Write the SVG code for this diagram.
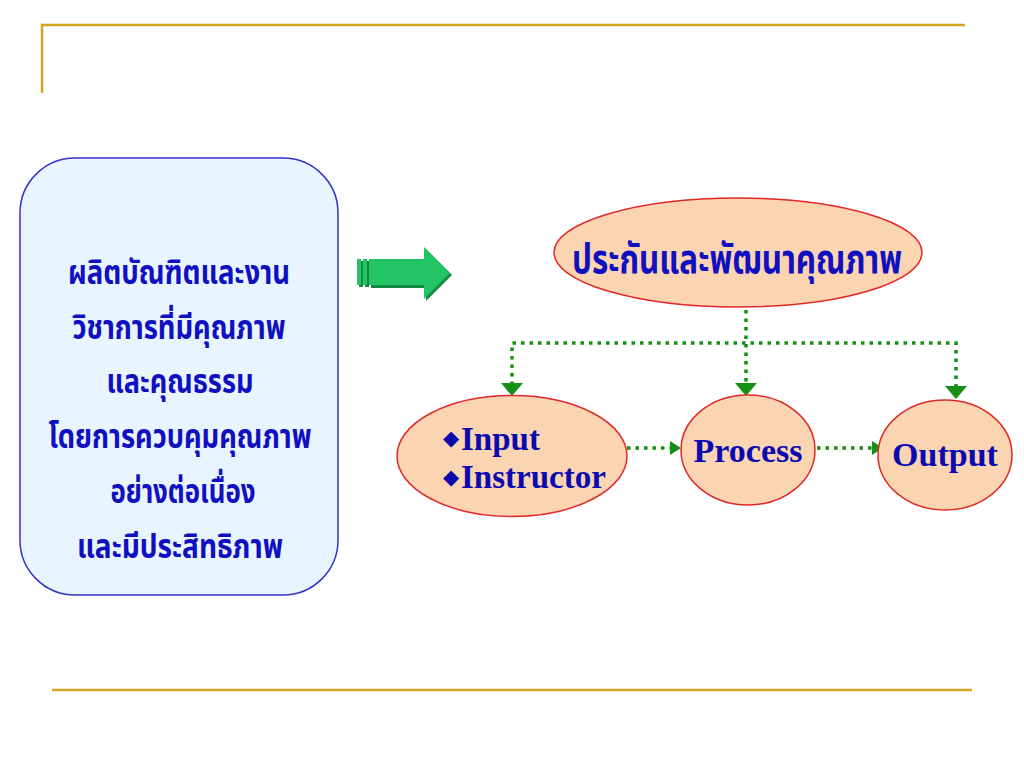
<svg xmlns="http://www.w3.org/2000/svg" width="1024" height="768" viewBox="0 0 1024 768">
<defs>
<style>
.deco{stroke:#D4A520;stroke-width:2.5;fill:none}
.th{font-family:"Noto Sans Thai","Noto Sans Thai Looped","Noto Sans","DejaVu Sans",sans-serif;font-weight:bold;fill:#1010C0;text-anchor:middle}
.en{font-family:"Liberation Serif","Times New Roman",serif;font-weight:bold;fill:#0A0AB0}
.bul{font-family:"DejaVu Sans",sans-serif;fill:#0A0AB0;text-anchor:middle}
.node{fill:#FBD5B2;stroke:#E02828;stroke-width:1.5}
.dot{stroke:#159015;stroke-width:3.5;fill:none;stroke-dasharray:3.5 5}
.head{fill:#159015}
</style>
</defs>
<rect width="1024" height="768" fill="#ffffff"/>
<g id="decoration">
<polyline class="deco" points="42,93 42,25 965,25"/>
<line class="deco" x1="52" y1="690" x2="972" y2="690"/>
</g>
<g id="goal-box">
<rect x="20" y="158" width="318" height="437" rx="55" ry="55" fill="#E8F5FF" stroke="#3333CC" stroke-width="1.5"/>
<text class="th" font-size="33" x="179" y="284" textLength="222" lengthAdjust="spacingAndGlyphs">ผลิตบัณฑิตและงาน</text>
<text class="th" font-size="33" x="179" y="339" textLength="213" lengthAdjust="spacingAndGlyphs">วิชาการที่มีคุณภาพ</text>
<text class="th" font-size="33" x="180" y="393" textLength="147" lengthAdjust="spacingAndGlyphs">และคุณธรรม</text>
<text class="th" font-size="33" x="180" y="448" textLength="263" lengthAdjust="spacingAndGlyphs">โดยการควบคุมคุณภาพ</text>
<text class="th" font-size="33" x="183" y="503" textLength="145" lengthAdjust="spacingAndGlyphs">อย่างต่อเนื่อง</text>
<text class="th" font-size="33" x="180" y="558" textLength="206" lengthAdjust="spacingAndGlyphs">และมีประสิทธิภาพ</text>
</g>
<g id="big-arrow">
<path d="M359,261 h4 v26 h-4 z M365,261 h4 v26 h-4 z M371,261 h55 v-12 l26,26 l-26,26 v-13 h-55 z" fill="#118840"/>
<path d="M357,259 h4 v26 h-4 z M363,259 h4 v26 h-4 z M369,259 h55 v-12 l26,26 l-26,26 v-14 h-55 z" fill="#22C466"/>
</g>
<g id="connectors">
<line class="dot" x1="746" y1="310" x2="746" y2="384"/>
<polyline class="dot" points="512,385 512,343 956,343 956,388"/>
<polygon class="head" points="501,383 523,383 512,396"/>
<polygon class="head" points="735,383 757,383 746,396"/>
<polygon class="head" points="945,386 967,386 956,399"/>
<line class="dot" x1="627" y1="448" x2="670" y2="448"/>
<polygon class="head" points="670,441 670,455 681,448"/>
<line class="dot" x1="817" y1="448" x2="872" y2="448"/>
<polygon class="head" points="872,441 872,455 883,448"/>
</g>
<g id="node-quality">
<ellipse class="node" cx="738" cy="252.5" rx="184" ry="54.5"/>
<text class="th" font-size="41" x="737" y="273" fill="#0A0AB0" textLength="330" lengthAdjust="spacingAndGlyphs">ประกันและพัฒนาคุณภาพ</text>
</g>
<g id="node-input">
<ellipse class="node" cx="512" cy="456" rx="115" ry="60.5"/>
<text class="bul" font-size="21" x="451" y="445">◆</text>
<text class="en" font-size="33" x="461" y="450">Input</text>
<text class="bul" font-size="21" x="451" y="484">◆</text>
<text class="en" font-size="33" x="461" y="488">Instructor</text>
</g>
<g id="node-process">
<ellipse class="node" cx="748" cy="450" rx="67" ry="55"/>
<text class="en" font-size="34" x="748" y="462" text-anchor="middle">Process</text>
</g>
<g id="node-output">
<ellipse class="node" cx="945" cy="455" rx="67" ry="55"/>
<text class="en" font-size="34" x="945" y="466" text-anchor="middle">Output</text>
</g>
</svg>
